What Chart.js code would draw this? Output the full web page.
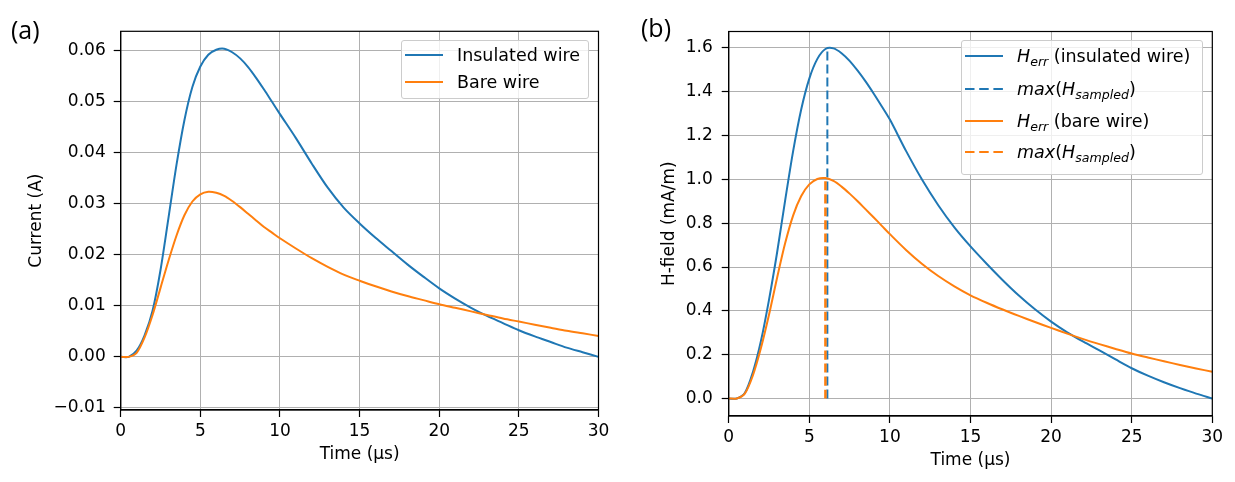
<!DOCTYPE html>
<html lang="en">
<head>
<meta charset="UTF-8">
<title>Current and H-field</title>
<script src="https://cdn.jsdelivr.net/npm/chart.js@4.4.1/dist/chart.umd.min.js"></script>
<style>
  body { margin: 0; background: #fff; width: 1235px; height: 482px; position: relative; overflow: hidden; font-family: "DejaVu Sans", sans-serif; }
  canvas { position: absolute; top: 0; }
  #chartA { left: 0; }
  #chartB { left: 620px; }
  .panel { position: absolute; font-family: "Open Sans", sans-serif; font-size: 25px; line-height: 1; color: #000; }
  .legend { position: absolute; background: rgba(255,255,255,0.8); border: 1px solid #cccccc; border-radius: 3px; box-sizing: border-box; }
  .row { position: absolute; left: 0; height: 0; }
  .row svg { position: absolute; left: 3px; top: -2px; }
  .row .t { position: absolute; left: 55px; top: -11px; font-size: 17.5px; line-height: 22px; white-space: nowrap; color: #000; }
  .m { font-style: italic; }
  sub { font-size: 0.72em; vertical-align: -0.3em; line-height: 0; }
</style>
</head>
<body>
<canvas id="chartA" width="620" height="482"></canvas>
<canvas id="chartB" width="615" height="482"></canvas>

<div class="panel" style="left:11px; top:17px;">(a)</div>
<div class="panel" style="left:641px; top:15px;">(b)</div>

<div class="legend" style="left:401px; top:40px; width:188px; height:59px;">
  <div class="row" style="top:14px"><svg width="40" height="4"><line x1="0" y1="2" x2="38" y2="2" stroke="#1f77b4" stroke-width="2"/></svg><span class="t">Insulated wire</span></div>
  <div class="row" style="top:41px"><svg width="40" height="4"><line x1="0" y1="2" x2="38" y2="2" stroke="#ff7f0e" stroke-width="2"/></svg><span class="t">Bare wire</span></div>
</div>

<div class="legend" style="left:961px; top:40px; width:242px; height:135px;">
  <div class="row" style="top:15px"><svg width="40" height="4"><line x1="0" y1="2" x2="38" y2="2" stroke="#1f77b4" stroke-width="2"/></svg><span class="t"><span class="m">H<sub>err</sub></span> (insulated wire)</span></div>
  <div class="row" style="top:48px"><svg width="40" height="4"><line x1="0" y1="2" x2="38" y2="2" stroke="#1f77b4" stroke-width="2" stroke-dasharray="9.5 4.7"/></svg><span class="t"><span class="m">max</span>(<span class="m">H<sub>sampled</sub></span>)</span></div>
  <div class="row" style="top:80px"><svg width="40" height="4"><line x1="0" y1="2" x2="38" y2="2" stroke="#ff7f0e" stroke-width="2"/></svg><span class="t"><span class="m">H<sub>err</sub></span> (bare wire)</span></div>
  <div class="row" style="top:111px"><svg width="40" height="4"><line x1="0" y1="2" x2="38" y2="2" stroke="#ff7f0e" stroke-width="2" stroke-dasharray="9.5 4.7"/></svg><span class="t"><span class="m">max</span>(<span class="m">H<sub>sampled</sub></span>)</span></div>
</div>

<script>
// time axis (µs)
const timeUs = [0, 0.5, 1, 1.5, 2, 2.5, 3, 3.5, 4, 4.5, 5, 5.5, 6, 6.5, 7, 7.5, 8, 8.5, 9, 9.5, 10,
  11, 12, 13, 14, 15, 16, 17, 18, 19, 20, 21, 22, 23, 24, 25, 26, 27, 28, 29, 30];

// (a) current in A
const currentInsulated = [0, 0, 0.0012, 0.0042, 0.0090, 0.0170, 0.0272, 0.0375, 0.0463, 0.0528, 0.0568, 0.0591, 0.0601, 0.0603, 0.0596, 0.0584, 0.0567, 0.0546, 0.0523, 0.0499, 0.0475,
  0.0428, 0.0378, 0.0331, 0.0292, 0.0261, 0.0233, 0.0207, 0.0181, 0.0157, 0.0134, 0.0114, 0.0096, 0.0080, 0.0066, 0.0052, 0.0040, 0.0029, 0.0018, 0.0009, 0.0000];
const currentBare = [0, 0, 0.0008, 0.0038, 0.0082, 0.0135, 0.0188, 0.0237, 0.0277, 0.0304, 0.0318, 0.0323, 0.0321, 0.0315, 0.0305, 0.0293, 0.0280, 0.0267, 0.0254, 0.0243, 0.0232,
  0.0212, 0.0193, 0.0176, 0.0161, 0.0149, 0.0138, 0.0128, 0.0119, 0.0111, 0.0103, 0.0096, 0.0089, 0.0082, 0.0075, 0.0069, 0.0063, 0.0057, 0.0051, 0.0046, 0.0041];

// (b) H-field in mA/m
const fieldInsulated = [0, 0, 0.025, 0.12, 0.262, 0.45, 0.665, 0.903, 1.13, 1.32, 1.46, 1.55, 1.595, 1.598, 1.576, 1.541, 1.496, 1.446, 1.391, 1.333, 1.273,
  1.13, 0.998, 0.882, 0.781, 0.694, 0.615, 0.54, 0.47, 0.407, 0.351, 0.302, 0.259, 0.219, 0.178, 0.138, 0.104, 0.074, 0.047, 0.022, 0];
const fieldBare = [0, 0, 0.022, 0.105, 0.23, 0.382, 0.55, 0.708, 0.836, 0.924, 0.977, 1.002, 1.006, 0.993, 0.967, 0.935, 0.9, 0.863, 0.826, 0.788, 0.75,
  0.678, 0.614, 0.559, 0.512, 0.471, 0.437, 0.406, 0.377, 0.349, 0.322, 0.296, 0.271, 0.248, 0.226, 0.205, 0.187, 0.17, 0.153, 0.137, 0.122];

// sampled maxima (time, value) for insulated and bare wire
const maxSampledTime = [6.12, 6.0];
const maxSampledField = [1.6, 1.005];

const timeTicks = [0, 5, 10, 15, 20, 25, 30];
const currentTicks = [-0.01, 0, 0.01, 0.02, 0.03, 0.04, 0.05, 0.06];
const fieldTicks = [0, 0.2, 0.4, 0.6, 0.8, 1.0, 1.2, 1.4, 1.6];

const blue = '#1f77b4';
const orange = '#ff7f0e';

Chart.defaults.font.family = '"DejaVu Sans", sans-serif';
Chart.defaults.font.size = 17;
Chart.defaults.color = '#000';

function pts(xs, ys) {
  return xs.map((x, i) => ({ x: x, y: ys[i] }));
}

function fixTicks(values) {
  return scale => { scale.ticks = values.map(v => ({ value: v })); };
}

function lineSet(label, data, color, order, dash, width) {
  return {
    label: label, data: data, borderColor: color, backgroundColor: color,
    borderWidth: width || 2, pointRadius: 0, fill: false, order: order,
    borderDash: dash || [], tension: 0.3
  };
}

const gridOpts = { color: '#b0b0b0', lineWidth: 1, tickColor: '#000', tickLength: 7, tickWidth: 1.2 };
const borderOpts = { color: '#000', width: 1.2 };

function xScale(height, padBottom) {
  return {
    type: 'linear', min: 0, max: 30,
    afterBuildTicks: fixTicks(timeTicks),
    afterFit: s => { s.height = height; },
    grid: gridOpts, border: borderOpts,
    ticks: { padding: 4, autoSkip: false, maxRotation: 0, callback: v => String(v) },
    title: { display: true, text: 'Time (µs)', padding: { top: 0, bottom: padBottom } }
  };
}

function yScale(min, max, ticks, fmt, text, width, padTop, tickPad) {
  return {
    type: 'linear', min: min, max: max,
    afterBuildTicks: fixTicks(ticks),
    afterFit: s => { s.width = width; },
    grid: gridOpts, border: borderOpts,
    ticks: { padding: tickPad, autoSkip: false, callback: fmt },
    title: { display: true, text: text, padding: { top: padTop, bottom: 0 } }
  };
}

// top and right spines
const frame = {
  id: 'frame',
  afterDraw(chart) {
    const { ctx, chartArea: a } = chart;
    ctx.save();
    ctx.strokeStyle = '#000';
    ctx.lineWidth = 1.2;
    ctx.strokeRect(a.left, a.top, a.right - a.left, a.bottom - a.top);
    ctx.restore();
  }
};

new Chart(document.getElementById('chartA'), {
  type: 'line',
  data: {
    datasets: [
      lineSet('Insulated wire', pts(timeUs, currentInsulated), blue, 2),
      lineSet('Bare wire', pts(timeUs, currentBare), orange, 1)
    ]
  },
  options: {
    responsive: false,
    animation: false,
    layout: { padding: { left: 0, top: 31.3, right: 21.5, bottom: 0 } },
    plugins: { legend: { display: false }, tooltip: { enabled: false } },
    scales: {
      x: xScale(72, 16.8),
      y: yScale(-0.0104, 0.0637, currentTicks,
        v => (v < 0 ? '\u2212' : '') + Math.abs(v).toFixed(2),
        'Current (A)', 120.7, 26.4, 8)
    }
  },
  plugins: [frame]
});

new Chart(document.getElementById('chartB'), {
  type: 'line',
  data: {
    datasets: [
      lineSet('H_err (insulated wire)', pts(timeUs, fieldInsulated), blue, 4),
      lineSet('max(H_sampled)', [{ x: maxSampledTime[0], y: 0 }, { x: maxSampledTime[0], y: maxSampledField[0] }], blue, 3, [9, 4]),
      lineSet('H_err (bare wire)', pts(timeUs, fieldBare), orange, 2),
      lineSet('max(H_sampled)', [{ x: maxSampledTime[1], y: 0 }, { x: maxSampledTime[1], y: maxSampledField[1] }], orange, 1, [9, 4], 2.5)
    ]
  },
  options: {
    responsive: false,
    animation: false,
    layout: { padding: { left: 0, top: 31.5, right: 22.7, bottom: 0 } },
    plugins: { legend: { display: false }, tooltip: { enabled: false } },
    scales: {
      x: xScale(66, 11.2),
      y: yScale(-0.08, 1.675, fieldTicks, v => v.toFixed(1),
        'H-field (mA/m)', 108.7, 39.6, 9)
    }
  },
  plugins: [frame]
});
</script>
</body>
</html>
